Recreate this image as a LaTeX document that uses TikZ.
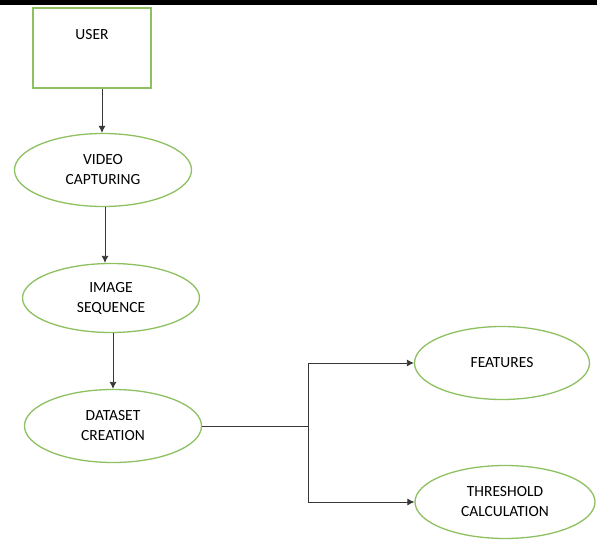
\documentclass[tikz,border=0pt]{standalone}
\usepackage{fontspec}
\setmainfont{Carlito}
\usepackage{tikz}
\definecolor{boxgreen}{RGB}{140,192,96}
\definecolor{wire}{RGB}{55,55,55}
\usetikzlibrary{positioning,arrows.meta,shapes.geometric}
\tikzset{%
  stage/.style={draw=boxgreen, line width=1.3pt, ellipse, inner sep=0pt,
    minimum width=177pt, minimum height=73pt, align=center,
    font=\fontsize{15.5}{20}\selectfont},% process ellipse
  userbox/.style={draw=boxgreen, line width=1.3pt, rectangle, inner sep=0pt,
    minimum width=118pt, minimum height=80pt, text depth=28pt,
    font=\fontsize{15.5}{20}\selectfont},% user box
  flow/.style={draw=wire, line width=0.8pt, -{Latex[length=7pt,width=7pt]}}% arrows
}

\begin{document}
\begin{tikzpicture}[x=1pt, y=-1pt]
\useasboundingbox (0,0) rectangle (597,540);
\fill[black] (0,0) rectangle (597,5);

\node[userbox] (user) at (92,48) {USER};
\node[stage] (video) at (103,170) {VIDEO\\CAPTURING};
\node[stage, minimum height=69pt] (image) at (111,298) {IMAGE\\SEQUENCE};
\node[stage] (data) at (113,426) {DATASET\\CREATION};
\node[stage, minimum width=175pt] (feat) at (502,363) {FEATURES};
\node[stage, minimum width=180pt] (thres) at (505,502) {THRESHOLD\\CALCULATION};

\coordinate (split) at (308,426);

\draw[flow] (user.south -| 102,0) -- (video.north -| 102,0);
\draw[flow] (video.south -| 105,0) -- (image.north -| 105,0);
\draw[flow] (image.south -| 113,0) -- (data.north -| 113,0);
\draw[draw=wire, line width=0.8pt] (data.east) -- (split);
\draw[flow] (split) |- (feat.west);
\draw[flow] (split) |- (thres.west);
\end{tikzpicture}
\end{document}
